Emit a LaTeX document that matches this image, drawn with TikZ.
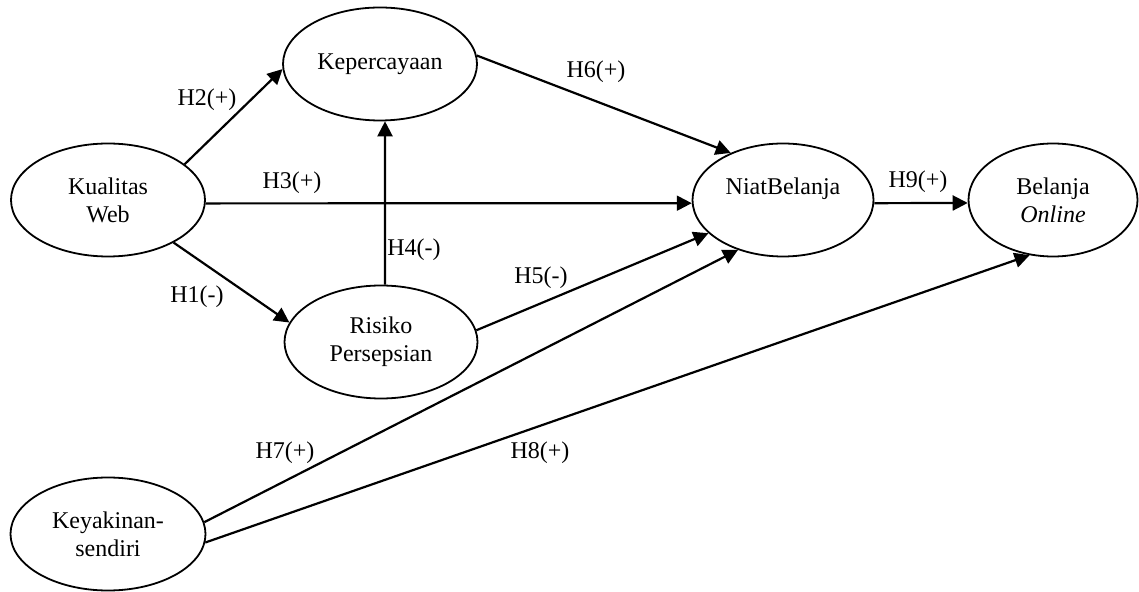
\documentclass[tikz,border=0pt]{standalone}
\usepackage{fontspec}
\setmainfont{Liberation Serif}
\usetikzlibrary{shapes.geometric,arrows.meta}

\begin{document}
\begin{tikzpicture}[x=0.5pt,y=-0.5pt,font=\fontsize{12}{14}\selectfont]
                \useasboundingbox (0,0) rectangle (1139,592);
                \begin{scope}[every node/.style={ellipse,draw,line width=0.9pt,align=center,inner sep=0pt,minimum height=56.5pt}]
                    \node[minimum width=97pt] (KW) at (108,200) {Kualitas\\Web};
                    \node[minimum width=97pt] (KP) at (380,64) {Kepercayaan};
                    \node[minimum width=96.5pt] (RP) at (381,342) {Risiko\\Persepsian};
                    \node[minimum width=90.5pt] (NB) at (783,200) {NiatBelanja\\\mbox{}};
                    \node[minimum width=84.5pt] (BO) at (1053,200) {Belanja\\\textit{Online}};
                    \node[minimum width=97.5pt] (KS) at (108,534) {Keyakinan-\\sendiri};
                \end{scope}

                \begin{scope}[every edge/.style={draw,line width=1.1pt,-{Triangle[length=7.5pt,width=7.5pt]}}]
                    \path (KW.-33.5) edge (RP.168);
                    \path (KW.25.6) edge (KP.183);
                    \path (KW.-2) edge (NB.182);
                    \path (RP.86) edge (KP.275);
                    \path (RP.7) edge (NB.204);
                    \path (KP.5) edge (NB.138);
                    \path (KS.7) edge (NB.228);
                    \path (KS.-5) edge (BO.247);
                    \path (NB.-2) edge (BO.182);
                \end{scope}

                \node (H1) at (197,297) {H1(-)};
                \node (H2) at (207,100) {H2(+)};
                \node (H3) at (292,183) {H3(+)};
                \node (H4) at (414,250) {H4(-)};
                \node (H5) at (541,278) {H5(-)};
                \node (H6) at (596,72) {H6(+)};
                \node (H7) at (285,453) {H7(+)};
                \node (H8) at (540,453) {H8(+)};
                \node (H9) at (918,182) {H9(+)};
            \end{tikzpicture}
\end{document}
